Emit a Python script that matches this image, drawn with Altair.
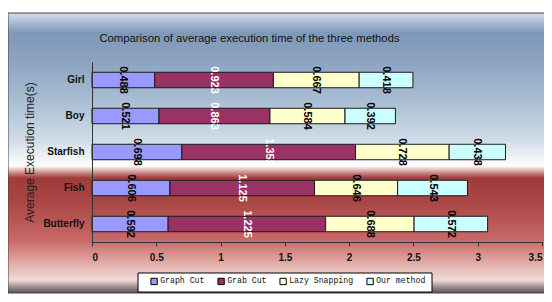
import altair as alt
import pandas as pd

categories = ["Girl", "Boy", "Starfish", "Fish", "Butterfly"]
methods = ["Graph Cut", "Grab Cut", "Lazy Snapping", "Our method"]
graph_cut = [0.488, 0.521, 0.698, 0.606, 0.592]
grab_cut = [0.923, 0.863, 1.352, 1.125, 1.225]
lazy_snapping = [0.667, 0.584, 0.728, 0.646, 0.688]
our_method = [0.418, 0.392, 0.438, 0.543, 0.572]
x_ticks = [0, 0.5, 1, 1.5, 2, 2.5, 3, 3.5]
colors = ["#9999ff", "#993366", "#ffffcc", "#ccffff"]
title_text = "Comparison of average execution time of the three methods"

series = [graph_cut, grab_cut, lazy_snapping, our_method]
rows = []
for mi, (m, vals) in enumerate(zip(methods, series)):
    for c, v in zip(categories, vals):
        rows.append({"image": c, "method": m, "order": mi, "time": v})
df = pd.DataFrame(rows)

W, H = 450, 180
PL, PT = 84, 54
PR, PB = 2, 52

grad = alt.LinearGradient(
    gradient="linear", x1=0, x2=0, y1=0, y2=1,
    stops=[
        alt.GradientStop(offset=0.0, color="#d2deec"),
        alt.GradientStop(offset=0.071, color="#8098b8"),
        alt.GradientStop(offset=0.175, color="#8ca4c2"),
        alt.GradientStop(offset=0.311, color="#a9bdd3"),
        alt.GradientStop(offset=0.454, color="#d0dce8"),
        alt.GradientStop(offset=0.525, color="#f4f6f8"),
        alt.GradientStop(offset=0.546, color="#ffffff"),
        alt.GradientStop(offset=0.571, color="#c88888"),
        alt.GradientStop(offset=0.589, color="#a03c3a"),
        alt.GradientStop(offset=0.668, color="#a84444"),
        alt.GradientStop(offset=0.811, color="#c86868"),
        alt.GradientStop(offset=0.889, color="#e0a8a2"),
        alt.GradientStop(offset=0.954, color="#f0dcd8"),
        alt.GradientStop(offset=0.975, color="#a89898"),
        alt.GradientStop(offset=1.0, color="#605050"),
    ],
)

one = pd.DataFrame({"a": [0]})

frame = alt.Chart(one).mark_rect(fill=grad, stroke="#444444", strokeWidth=1).encode(
    x=alt.value(-PL), x2=alt.value(W + PR + 4), y=alt.value(-49), y2=alt.value(H + PB - 1)
)

legend_box = alt.Chart(one).mark_rect(fill="white", stroke="black", strokeWidth=1).encode(
    x=alt.value(46), x2=alt.value(340), y=alt.value(211), y2=alt.value(230)
)

title = alt.Chart(one).mark_text(
    text=title_text, font="Liberation Sans", fontSize=11.3, color="#111111",
    align="center", baseline="middle"
).encode(x=alt.value(157.5), y=alt.value(-23.5))

base = alt.Chart(df).transform_stack(
    stack="time", groupby=["image"], as_=["start", "end"],
    sort=[alt.SortField("order", order="ascending")]
).transform_calculate(
    mid="(datum.start + datum.end) / 2",
    tcolor="datum.method == 'Grab Cut' ? 'white' : 'black'",
    label="format(datum.time, '.3~f')",
)

yenc = alt.Y(
    "image:N", sort=categories,
    scale=alt.Scale(paddingInner=0.57, paddingOuter=0.285),
    axis=alt.Axis(
        title="Average Execution time(s)", titleFont="Liberation Sans",
        titleFontSize=12, titleFontWeight="normal", titleColor="#222222",
        titlePadding=6, labelFont="Liberation Sans", labelFontSize=10,
        labelFontWeight="bold", labelColor="#111111", labelPadding=8,
        ticks=False, domainColor="#333333", grid=False, zindex=2,
    ),
)

xscale = alt.Scale(domain=[0, 3.5], nice=False, zero=True, padding=0)

bars = base.mark_bar(stroke="#1a1a1a", strokeWidth=1).encode(
    y=yenc,
    x=alt.X(
        "start:Q", scale=xscale,
        axis=alt.Axis(
            title=None, values=x_ticks, labelExpr="datum.value",
            labelFont="Liberation Sans", labelFontSize=10, labelFontWeight="bold",
            labelColor="#111111", tickSize=4, tickColor="#333333",
            domainColor="#333333", labelPadding=6, grid=False, zindex=2,
        ),
    ),
    x2="end:Q",
    color=alt.Color(
        "method:N", sort=methods,
        scale=alt.Scale(domain=methods, range=colors),
        legend=alt.Legend(
            title=None, orient="none", legendX=58, legendY=215,
            direction="horizontal", symbolType="square", symbolSize=40,
            symbolStrokeColor="black", symbolStrokeWidth=1,
            labelFont="Liberation Mono", labelFontSize=8.2, labelColor="#111111",
            columnPadding=10, labelOffset=2, padding=0,
        ),
    ),
)

labels = base.mark_text(
    angle=90, font="Liberation Sans", fontSize=11, fontWeight="bold",
    align="center", baseline="middle"
).encode(
    y=alt.Y("image:N", sort=categories),
    x=alt.X("mid:Q", scale=xscale),
    text="label:N",
    color=alt.Color("tcolor:N", scale=None),
)

chart = alt.layer(frame, legend_box, bars, labels, title).resolve_scale(
    color="independent"
).properties(
    width=W, height=H, autosize="none",
    padding={"left": PL, "top": PT, "right": PR, "bottom": PB},
    background="white",
).configure_view(stroke=None)

chart.save("out.html", embed_options={"renderer": "svg", "actions": False})
